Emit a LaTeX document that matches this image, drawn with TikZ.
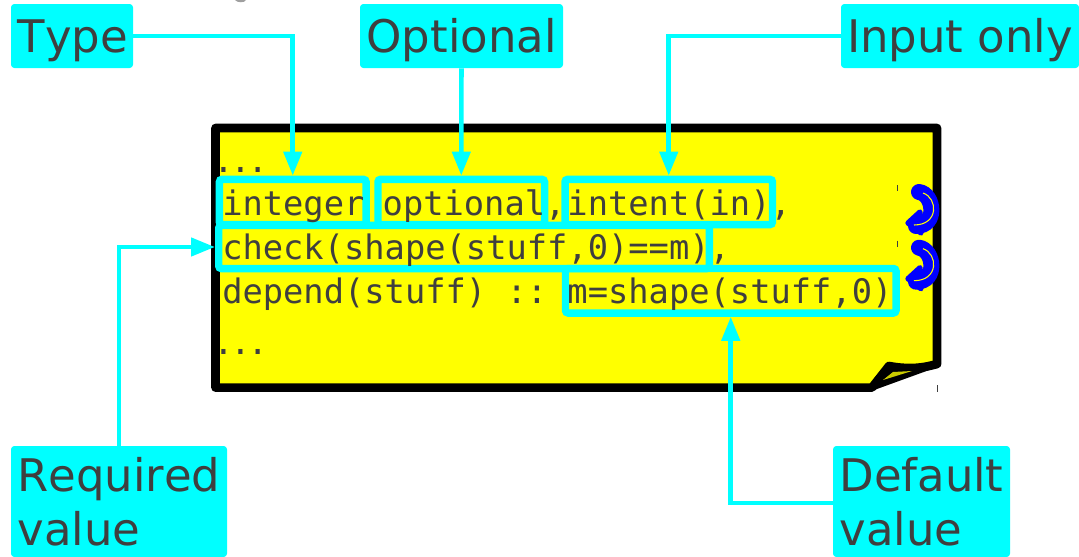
\documentclass[tikz,border=0pt]{standalone}
\usepackage{fontspec}
\setmainfont[Kerning=Off]{DejaVu Sans}
\setmonofont{DejaVu Sans Mono}
\usetikzlibrary{arrows.meta}
\definecolor{ink}{HTML}{3F3F3F}
\definecolor{flap}{HTML}{CCCC00}
\definecolor{cy}{RGB}{0,255,255}
\definecolor{yl}{RGB}{255,255,0}
\definecolor{bl}{RGB}{0,0,255}
\tikzset{
  x=0.75pt,y=-0.75pt,
  labelbox/.style={fill=cy,inner sep=0pt,rounded corners=2.5pt,text=ink,align=left,
    font=\fontsize{33.7}{40.5}\selectfont},
  oneline/.style={text height=30pt,text depth=6pt,minimum height=48pt},
  codebox/.style={draw=cy,line width=5.6pt,rounded corners=2pt,inner sep=0pt,outer sep=2.8pt},
  codeline/.style={anchor=base west,inner sep=0pt,text=ink,font=\fontsize{25.3}{30}\ttfamily},
  dots/.style={anchor=base west,inner sep=0pt,text=ink,font=\fontsize{25.3}{30}\ttfamily},
  link/.style={draw=cy,line width=3.4pt,-{Triangle[length=18pt,width=13.5pt]}},
  outline/.style={draw=black,line width=6.5pt,line join=round},
  curl/.style={draw=bl,line width=12pt,line cap=round},
  tick/.style={draw=ink,line width=0.6pt},
}
\begin{document}
\begin{tikzpicture}
\useasboundingbox (0,0) rectangle (1079,557);
\fill[ink!50] (235,0) -- (246,0) .. controls (245,3) and (237,3) .. (235,0) -- cycle;
% note
\path[outline,fill=yl] (215.5,128) -- (937,128) -- (937,364)
  .. controls (920,369) and (905,369) .. (889,366) -- (872,387.6) -- (215.5,387.6) -- cycle;
\path[outline,fill=black,line width=4.5pt] (872,387.6) -- (889,366) .. controls (905,369) and (920,369) .. (937,364) -- cycle;
\fill[flap] (883,380) -- (893,372) -- (912,371) -- cycle;
% curls
\foreach \dy in {0,55.7}{
  \begin{scope}[yshift=-0.75*\dy pt]
    \draw[curl] (919,192) .. controls (934,194) and (938,226) .. (916,226);
    \fill[bl,draw=bl,line width=4pt,line join=round] (908,223) -- (920,212) -- (921,233) -- cycle;
    \draw[yl,line width=0.8pt] (923,193) .. controls (938,198) and (939,225) .. (914,225);
    \draw[tick] (897,185) -- (897,191);
  \end{scope}
}
\draw[tick] (937.5,385) -- (937.5,392);
% code boxes
\node[codebox,minimum width=110pt,minimum height=34pt] (ibox) at (292.75,202) {};
\node[codebox,minimum width=124.9pt,minimum height=34pt] (obox) at (461.25,202) {};
\node[codebox,minimum width=155.6pt,minimum height=34pt] (ebox) at (668.75,202) {};
\node[codebox,minimum width=367.9pt,minimum height=32.3pt] (cbox) at (464,247) {};
\node[codebox,minimum width=247.9pt,minimum height=33.4pt] (mbox) at (730.75,290.75) {};
% code
\node[dots] (d1) at (213,172) {.\kern-2.4pt.\kern-2.4pt.};
\node[codeline] (l1) at (222,215) {integer\kern-1.5pt{} optional,\kern1.5pt{}intent(in),};
\node[codeline] (l2) at (222,259) {check(shape(stuff,0)==m),};
\node[codeline] (l3) at (222,303) {depend(stuff) :: m=shape(stuff,0)};
\node[dots] (d2) at (213,354) {.\kern-2.4pt.\kern-2.4pt.};
% labels
\node[labelbox,oneline,minimum width=91.5pt] (type) at (72,36) {\hspace*{1.5pt}Type};
\node[labelbox,oneline,minimum width=152.25pt] (opt) at (461.5,36) {Optional};
\node[labelbox,oneline,minimum width=178.5pt] (inp) at (960,36) {Input only};
\node[labelbox,minimum width=162pt,minimum height=83.25pt] (req) at (119,501.5) {Required\\[0pt]value};
\node[labelbox,minimum width=132.75pt,minimum height=83.25pt] (def) at (921.5,501.5) {Default\\[0pt]value};
% connectors
\draw[link] (type.east) -| (ibox.north);
\draw[link] (opt.south) -- (obox.north);
\draw[link] (inp.west) -| (ebox.north);
\draw[link] (req.north) |- (cbox.west);
\draw[link] ([yshift=-1.1pt]def.west) -| (mbox.south);
\end{tikzpicture}
\end{document}
